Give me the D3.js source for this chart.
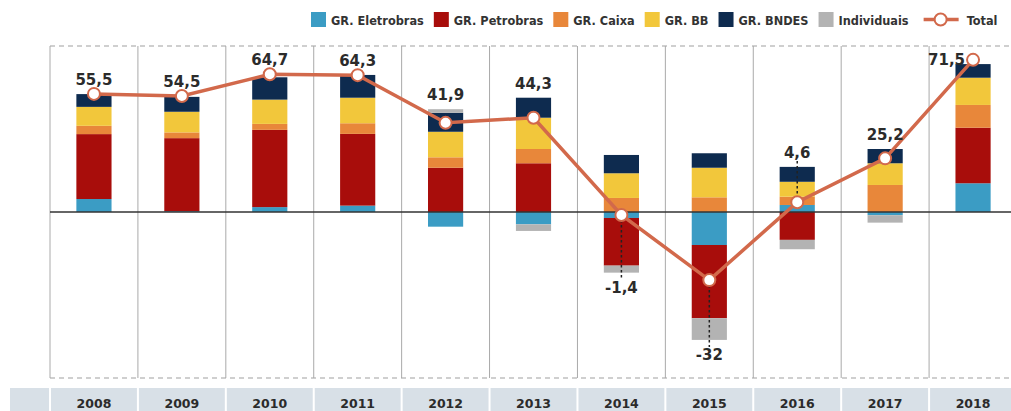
<!DOCTYPE html>
<html>
<head>
<meta charset="utf-8">
<script src="https://d3js.org/d3.v7.min.js"></script>
<style>
  body { margin: 0; background: #fff; }
  svg { display: block; }
  .legend text { font-family: "Liberation Sans Narrow", "DejaVu Sans Condensed", sans-serif; font-weight: bold; font-size: 13px; fill: #333; }
  .vlabel { font-family: "DejaVu Sans", sans-serif; font-weight: bold; font-size: 15px; fill: #2b2b2b; }
  .year { font-family: "DejaVu Sans", sans-serif; font-weight: bold; font-size: 12.5px; fill: #2b2b2b; }
</style>
</head>
<body>
<script>
// ---------------------------------------------------------------
// data (R$ bilhões)
// ---------------------------------------------------------------
var years       = ["2008","2009","2010","2011","2012","2013","2014","2015","2016","2017","2018"];
var eletrobras  = [ 6.1,  0.4,  2.3,  3.0, -6.9, -5.8, -2.8, -15.5,   3.3, -1.5, 13.5];
var petrobras   = [30.5, 34.3, 36.3, 33.7, 20.8, 22.9, -22.4, -34.4, -13.1,  0.0, 26.1];
var caixa       = [ 3.9,  2.7,  2.8,  5.0,  4.9,  6.7,  6.6,   6.9,   3.9, 12.7, 10.7];
var bb          = [ 8.9,  9.7, 11.4, 12.0, 12.0, 14.7, 11.6,  13.9,   7.0, 10.2, 12.8];
var bndes       = [ 6.0,  7.0, 10.5, 10.7,  8.9,  9.4,  8.6,   6.8,   7.0,  6.7,  6.4];
var individuais = [ 0.0,  0.0,  0.0,  0.0,  1.7, -3.1, -3.3, -10.2,  -4.4, -3.5,  0.0];
var total       = [55.5, 54.5, 64.7, 64.3, 41.9, 44.3, -1.4, -32.0,   4.6, 25.2, 71.5];

var seriesNames = ["GR. Eletrobras", "GR. Petrobras", "GR. Caixa", "GR. BB", "GR. BNDES", "Individuais"];
var seriesVals  = [eletrobras, petrobras, caixa, bb, bndes, individuais];
var colors      = ["#3b9cc4", "#a80d0b", "#e8873a", "#f2c73b", "#0e2b4f", "#b3b3b3"];
var totalColor  = "#d2694b";

var W = 1011, H = 411;
var svg = d3.select("body").append("svg").attr("width", W).attr("height", H);

// table for the stack
var table = years.map(function(y, i){
	var row = { year: y };
	seriesNames.forEach(function(k, j){ row[k] = seriesVals[j][i]; });
	return row;
});
var stacked = d3.stack().keys(seriesNames).offset(d3.stackOffsetDiverging)(table);

var x = d3.scaleBand().domain(years).range([50, 1017]).paddingInner(0.6).paddingOuter(0.3);
var y = d3.scaleLinear().domain([-78, 78]).range([378, 46]);
var step = x.step(), edge = function(d){ return x(d) - step * 0.3; };
var cx = function(d){ return x(d) + x.bandwidth() / 2; };

// frame: dashed top/bottom, vertical separators
svg.selectAll(".hdash").data([78, -78]).enter().append("line")
	.attr("x1", 50).attr("x2", W).attr("y1", function(d){ return y(d); }).attr("y2", function(d){ return y(d); })
	.attr("stroke", "#cfcfcf").attr("stroke-width", 2).attr("stroke-dasharray", "5,4");
svg.selectAll(".vgrid").data(years).enter().append("line")
	.attr("x1", edge).attr("x2", edge).attr("y1", y(78)).attr("y2", y(-78))
	.attr("stroke", "#aaa").attr("stroke-width", 1);

// year band
svg.append("rect").attr("x", 10).attr("y", 388).attr("width", W - 10).attr("height", H - 388).attr("fill", "#d8e0e7");
svg.selectAll(".ysep").data(years).enter().append("rect")
	.attr("x", function(d){ return edge(d) - 1; }).attr("y", 388).attr("width", 2).attr("height", H - 388).attr("fill", "#fff");
svg.selectAll(".year").data(years).enter().append("text").attr("class", "year")
	.attr("x", cx).attr("y", 408).attr("text-anchor", "middle").text(function(d){ return d; });

// stacked bars
svg.append("g").selectAll("g").data(stacked).enter().append("g")
	.attr("fill", function(d, i){ return colors[i]; })
	.selectAll("rect").data(function(d){ return d; }).enter().append("rect")
	.attr("x", function(d){ return x(d.data.year); })
	.attr("width", x.bandwidth())
	.attr("y", function(d){ return y(Math.max(d[0], d[1])); })
	.attr("height", function(d){ return Math.abs(y(d[0]) - y(d[1])); });

// zero line
svg.append("line").attr("x1", 50).attr("x2", W).attr("y1", y(0)).attr("y2", y(0))
	.attr("stroke", "#333").attr("stroke-width", 1.5);

// stack extents per year
var posTop = years.map(function(yr, i){ return d3.max(stacked, function(s){ return Math.max(s[i][0], s[i][1]); }); });
var negBot = years.map(function(yr, i){ return d3.min(stacked, function(s){ return Math.min(s[i][0], s[i][1]); }); });

// value labels + dotted leaders
var fmt = function(v){ return (Math.round(v * 10) / 10).toString().replace(".", ","); };
var labels = years.map(function(yr, i){
	var px = cx(yr), py = y(total[i]);
	if (total[i] >= 0) {
		var base = Math.min(py, y(posTop[i])) - 9;
		if (base - 12 < y(78)) return { x: px - 8, y: py + 5, anchor: "end", lead: null };
		return { x: px, y: base, anchor: "middle", lead: (py - base > 35) ? [base + 3, py] : null };
	}
	var b = Math.max(py, y(negBot[i])) + 20;
	return { x: px, y: b, anchor: "middle", lead: (b - py > 35) ? [py, b - 13] : null };
});
labels.forEach(function(l, i){
	if (l.lead) svg.append("line").attr("x1", l.x).attr("x2", l.x).attr("y1", l.lead[0]).attr("y2", l.lead[1])
		.attr("stroke", "#222").attr("stroke-width", 1.5).attr("stroke-dasharray", "2.5,2.5");
});

// total line
svg.append("path").datum(total)
	.attr("d", d3.line().x(function(d, i){ return cx(years[i]); }).y(function(d){ return y(d); }))
	.attr("fill", "none").attr("stroke", totalColor).attr("stroke-width", 3.5);
svg.selectAll(".pt").data(total).enter().append("circle")
	.attr("cx", function(d, i){ return cx(years[i]); }).attr("cy", function(d){ return y(d); })
	.attr("r", 6).attr("fill", "#fff").attr("stroke", totalColor).attr("stroke-width", 2);

svg.selectAll(".vlabel").data(labels).enter().append("text").attr("class", "vlabel")
	.attr("x", function(d){ return d.x; }).attr("y", function(d){ return d.y; })
	.attr("text-anchor", function(d){ return d.anchor; })
	.text(function(d, i){ return fmt(total[i]); });

// legend (text squeezed a bit toward the narrow face of the original)
var lg = svg.append("g").attr("class", "legend");
var lx = 311, squeeze = 0.97;
function legendText(tx, label){
	var t = lg.append("text").attr("x", tx).attr("y", 24.5).text(label);
	var w = t.node().getComputedTextLength() * squeeze;
	t.attr("textLength", w).attr("lengthAdjust", "spacingAndGlyphs");
	return w;
}
seriesNames.forEach(function(name, i){
	lg.append("rect").attr("x", lx).attr("y", 12).attr("width", 15).attr("height", 15).attr("fill", colors[i]);
	var w = legendText(lx + 20, name);
	lx += 20 + w + 10;
});
lg.append("line").attr("x1", lx + 5).attr("x2", lx + 40).attr("y1", 19.5).attr("y2", 19.5)
	.attr("stroke", totalColor).attr("stroke-width", 3.5);
lg.append("circle").attr("cx", lx + 22).attr("cy", 19.5).attr("r", 6).attr("fill", "#fff")
	.attr("stroke", totalColor).attr("stroke-width", 2);
legendText(lx + 48, "Total");
</script>
</body>
</html>
